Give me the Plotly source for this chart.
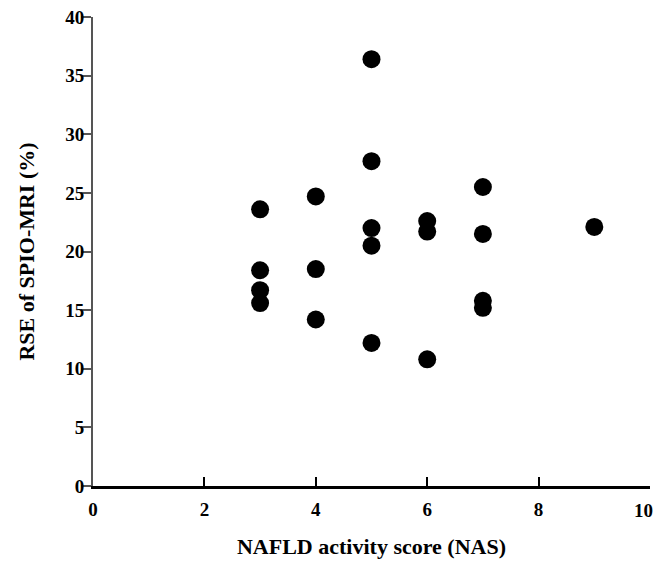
import plotly.graph_objects as go

nas = [3, 3, 3, 3,
       4, 4, 4,
       5, 5, 5, 5, 5,
       6, 6, 6,
       7, 7, 7, 7,
       9]
rse = [23.6, 18.4, 16.7, 15.6,
       24.7, 18.5, 14.2,
       36.4, 27.7, 22.0, 20.5, 12.2,
       22.6, 21.7, 10.8,
       25.5, 21.5, 15.8, 15.2,
       22.1]

x_ticks = [0, 2, 4, 6, 8, 10]
x_ticktext = ["0", "2", "4", "6", "8", ""]   # last label drawn as an annotation so it fits the page
x_last_label = "10"
y_ticks = [0, 5, 10, 15, 20, 25, 30, 35, 40]
y_ticktext = ["0", "5", "10", "15", "20", "25", "30", "35", "40"]

font_family = "Liberation Serif, Times New Roman, serif"

fig = go.Figure()
fig.add_trace(go.Scatter(
    x=nas, y=rse, mode="markers",
    marker=dict(color="black", size=18, line=dict(width=0)),
    cliponaxis=False, showlegend=False,
))

fig.update_layout(
    width=656, height=562,
    margin=dict(l=93, r=6, t=17, b=76),
    paper_bgcolor="white", plot_bgcolor="white",
    font=dict(family=font_family, color="black"),
)
fig.add_annotation(
    x=x_ticks[-1], xref="x", y=0, yref="paper",
    text=x_last_label, showarrow=False,
    xanchor="right", yanchor="top", xshift=5, yshift=-12,
    font=dict(size=19, family=font_family, weight="bold", color="black"),
)
fig.update_xaxes(
    range=[0, 10], tickvals=x_ticks, ticktext=x_ticktext,
    automargin=False, ticklabeloverflow="allow", ticklabelstandoff=4,
    showgrid=False, zeroline=False,
    showline=True, linecolor="black", linewidth=2.5,
    ticks="inside", ticklen=9, tickwidth=2, tickcolor="black",
    tickfont=dict(size=19, family=font_family, weight="bold"),
    title=dict(text="NAFLD activity score (NAS)", font=dict(size=22, family=font_family, weight="bold"), standoff=21),
)
fig.update_yaxes(
    range=[0, 40], tickvals=y_ticks, ticktext=y_ticktext,
    automargin=False, ticklabeloverflow="allow", ticklabelstandoff=-7,
    showgrid=False, zeroline=False,
    showline=True, linecolor="#555555", linewidth=2,
    ticks="outside", ticklen=10, tickwidth=1.5, tickcolor="#555555",
    tickfont=dict(size=19, family=font_family, weight="bold"),
    title=dict(text="RSE of SPIO-MRI (%)", font=dict(size=22, family=font_family, weight="bold"), standoff=25),
)

fig.write_html(
    "out.html",
    config={"displayModeBar": False},
    post_script="document.body.style.margin='0px';document.body.style.overflow='hidden';",
)
